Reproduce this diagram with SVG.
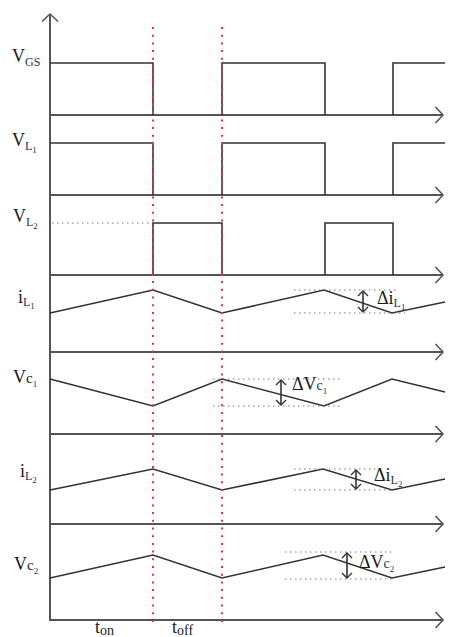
<svg xmlns="http://www.w3.org/2000/svg" width="452" height="637" viewBox="0 0 452 637">
<style>
.axis{stroke:#555;stroke-width:2;fill:none}
.wave{stroke:#333;stroke-width:1.6;fill:none;stroke-linejoin:miter}
.red{stroke:#f03030;stroke-width:2;stroke-dasharray:2 5.7;fill:none}
.dot{stroke:#777;stroke-width:1.2;stroke-dasharray:1.5 3.5;fill:none}
.dbl{stroke:#333;stroke-width:1.6;fill:none}
text{font-family:"Liberation Serif","Times New Roman",serif;fill:#1a1a1a}
.main{font-size:18px}
.sub{font-size:12px;fill:#26324f}
.sub2{font-size:9px;fill:#26324f}
</style>
<defs>
<marker id="ax" markerUnits="userSpaceOnUse" markerWidth="10" markerHeight="18" refX="7.5" refY="8" orient="auto" overflow="visible">
<path d="M0,0 L7.5,8 L0,16" fill="none" stroke="#555" stroke-width="1.6"/>
</marker>
<marker id="dh" markerUnits="userSpaceOnUse" markerWidth="8" markerHeight="12" refX="5" refY="5" orient="auto-start-reverse" overflow="visible">
<path d="M0,0 L5,5 L0,10" fill="none" stroke="#333" stroke-width="1.4"/>
</marker>
</defs>
<rect width="452" height="637" fill="#fff"/>

<g id="axes">
<line class="axis" x1="50" y1="621" x2="50" y2="14" marker-end="url(#ax)"/>
<line class="axis" x1="50" y1="115" x2="443" y2="115" marker-end="url(#ax)"/>
<line class="axis" x1="50" y1="195" x2="443" y2="195" marker-end="url(#ax)"/>
<line class="axis" x1="50" y1="275" x2="443" y2="275" marker-end="url(#ax)"/>
<line class="axis" x1="50" y1="352" x2="443" y2="352" marker-end="url(#ax)"/>
<line class="axis" x1="50" y1="434" x2="443" y2="434" marker-end="url(#ax)"/>
<line class="axis" x1="50" y1="524" x2="443" y2="524" marker-end="url(#ax)"/>
<line class="axis" x1="50" y1="620" x2="443" y2="620" marker-end="url(#ax)"/>
</g>

<g id="waveforms">
<path id="vgs" class="wave" d="M50,63 H153 V115 M222,115 V63 H325 V115 M393,115 V63 H445"/>
<path id="vl1" class="wave" d="M50,143 H153 V195 M222,195 V143 H325 V195 M393,195 V143 H445"/>
<path id="vl2" class="wave" d="M153,275 V223 H222 V275 M325,275 V223 H393 V275"/>
<path class="dot" d="M52,223 H150"/>
<path id="il1" class="wave" d="M50,313 L153,290 L222,313 L324,290 L392,313 L445,302"/>
<path id="vc1" class="wave" d="M50,379 L153,406 L222,379 L324,406 L392,379 L445,392"/>
<path id="il2" class="wave" d="M50,490 L153,469 L222,490 L323,469 L392,490 L445,479"/>
<path id="vc2" class="wave" d="M50,578 L153,555 L222,578 L323,555 L392,578 L445,567"/>
</g>

<g id="red-lines">
<line class="red" x1="153" y1="27" x2="153" y2="624"/>
<line class="red" x1="222" y1="27" x2="222" y2="624"/>
</g>

<g id="ripple-annotations">
<path class="dot" d="M294,290 H398 M294,313 H405"/>
<line class="dbl" x1="363" y1="291" x2="363" y2="312" marker-start="url(#dh)" marker-end="url(#dh)"/>
<path class="dot" d="M213,379 H340 M213,406 H340"/>
<line class="dbl" x1="281" y1="380" x2="281" y2="405" marker-start="url(#dh)" marker-end="url(#dh)"/>
<path class="dot" d="M294,469 H378 M294,490 H392"/>
<line class="dbl" x1="356" y1="470" x2="356" y2="489" marker-start="url(#dh)" marker-end="url(#dh)"/>
<path class="dot" d="M285,552 H395 M285,579 H395"/>
<line class="dbl" x1="347" y1="553" x2="347" y2="578" marker-start="url(#dh)" marker-end="url(#dh)"/>
</g>

<g id="labels">
<text x="12" y="62" class="main">V<tspan class="sub" dy="4">GS</tspan></text>
<text x="12" y="146" class="main">V<tspan class="sub" dy="4">L</tspan><tspan class="sub2" dy="3">1</tspan></text>
<text x="13" y="222" class="main">V<tspan class="sub" dy="4">L</tspan><tspan class="sub2" dy="3">2</tspan></text>
<text x="18" y="303" class="main">i<tspan class="sub" dy="3">L</tspan><tspan class="sub2" dy="3">1</tspan></text>
<text x="13" y="383" class="main">V<tspan style="font-size:15px">c</tspan><tspan class="sub2" dy="4">1</tspan></text>
<text x="20" y="477" class="main">i<tspan class="sub" dy="3">L</tspan><tspan class="sub2" dy="3">2</tspan></text>
<text x="14" y="570" class="main">V<tspan style="font-size:15px">c</tspan><tspan class="sub2" dy="4">2</tspan></text>

<text x="377" y="304" class="main">Δi<tspan class="sub" dy="3">L</tspan><tspan class="sub2" dy="3">1</tspan></text>
<text x="292" y="390" class="main">ΔV<tspan style="font-size:14px;fill:#26324f">c</tspan><tspan class="sub2" dy="4">1</tspan></text>
<text x="374" y="481" class="main">Δi<tspan class="sub" dy="3">L</tspan><tspan class="sub2" dy="3">2</tspan></text>
<text x="359" y="568" class="main">ΔV<tspan style="font-size:14px;fill:#26324f">c</tspan><tspan class="sub2" dy="4">2</tspan></text>

<text x="95" y="633" class="main">t<tspan style="font-size:14px" dy="2">on</tspan></text>
<text x="172" y="633" class="main">t<tspan style="font-size:14px" dy="2">off</tspan></text>
</g>
</svg>
